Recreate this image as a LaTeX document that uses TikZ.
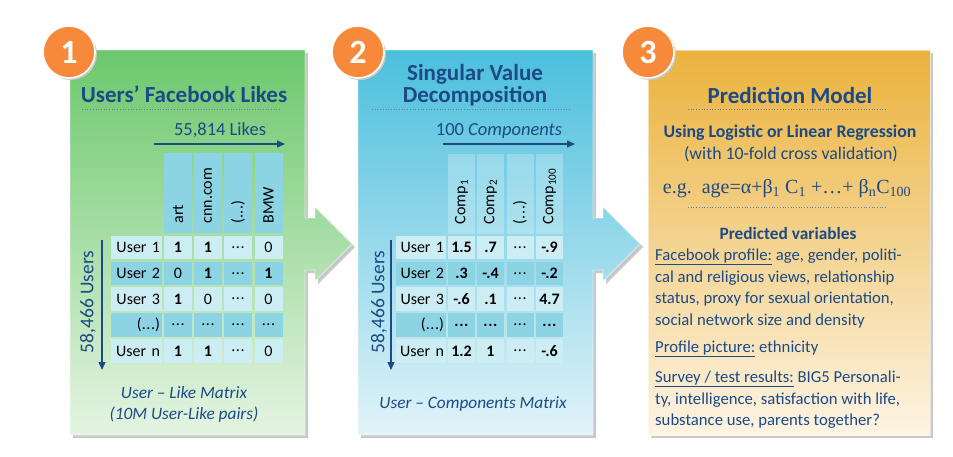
\documentclass[tikz,border=0pt]{standalone}
\usepackage{fontspec}
\setmainfont{Carlito}
\newfontfamily\eqfont{Liberation Serif}
\usepackage{tikz}
\usetikzlibrary{arrows.meta,calc}
\definecolor{navy}{HTML}{1B4A86}
\definecolor{badgeorange}{HTML}{F7893A}
\definecolor{greentop}{HTML}{6CC86C}
\definecolor{greenbot}{HTML}{E5F4E2}
\definecolor{bluetop}{HTML}{4BBFDC}
\definecolor{bluebot}{HTML}{E2F3F9}
\definecolor{ambertop}{HTML}{EBB23C}
\definecolor{amberbot}{HTML}{FDF4E3}
\definecolor{celllight}{HTML}{CDEDF4}
\definecolor{celldark}{HTML}{8CD3E3}
\definecolor{boxshadow}{HTML}{C9C9C9}
\newcommand{\fsize}[2]{\fontsize{#1}{#2}\selectfont}
\newcommand{\dotsgap}{.\kern0.6pt.\kern0.6pt.}
\newcommand{\arrowbox}[2]{(#1,50) -- (#2,50) -- (#2,218) -- (#2+10,218) -- (#2+10,207)
  -- (#2+47,244) -- (#2+10,281) -- (#2+10,270) -- (#2,270) -- (#2,435) -- (#1,435) -- cycle}
\newcommand{\plainbox}[2]{(#1,50) rectangle (#2,435)}

\begin{document}
\begin{tikzpicture}[x=1pt,y=-1pt,
  flow/.style={-{Triangle[length=8pt,width=7pt]},navy,line width=1.3pt},
  rule/.style={navy!70,dotted,line width=0.7pt},
  badge/.style={circle,fill=badgeorange,draw=white,line width=1.6pt,minimum size=52pt,
    inner sep=0pt,text=white,font=\fsize{34}{34}\bfseries},
  title/.style={navy,font=\fsize{23}{22}\bfseries,align=center},
  cell/.style={minimum width=28pt,minimum height=23.5pt,inner sep=0pt,font=\fsize{16}{16}},
  rowlabel/.style={cell,minimum width=51pt,text width=47pt,align=right},
  colhead/.style={cell,rotate=90,minimum width=80pt,minimum height=28pt,text width=61pt,align=left},
  note/.style={navy,font=\fsize{17.3}{21}\itshape,align=center},
  body/.style={navy,font=\fsize{16.7}{16},anchor=base west,inner sep=0pt}]
  \useasboundingbox (0,0) rectangle (953,456);

  % the three panels
  \fill[boxshadow,shift={(3,3)}] \arrowbox{70}{305};
  \shade[top color=greentop,bottom color=greenbot] \arrowbox{70}{305};
  \draw[white,opacity=0.5,line width=0.8pt] \arrowbox{70}{305};
  \fill[boxshadow,shift={(3,3)}] \arrowbox{358}{593};
  \shade[top color=bluetop,bottom color=bluebot] \arrowbox{358}{593};
  \draw[white,opacity=0.5,line width=0.8pt] \arrowbox{358}{593};
  \fill[boxshadow,shift={(3,3)}] \plainbox{648}{930};
  \shade[top color=ambertop,bottom color=amberbot] \plainbox{648}{930};
  \draw[white,opacity=0.5,line width=0.8pt] \plainbox{648}{930};

  \foreach \x/\n in {69/1,358/2,648/3}{
    \fill[boxshadow] (\x+2,54) circle (26pt);
    \node[badge] (badge\n) at (\x,52) {\n};
  }

  % 1: likes matrix
  \node[title] (likestitle) at (184,94) {Users’ Facebook Likes};
  \coordinate (rule1a) at (82,109);
  \coordinate (rule1b) at (280,109);
  \draw[rule] (rule1a) -- (rule1b);
  \node[navy,font=\fsize{18.5}{18}] (likescount) at (220,130) {55,814 Likes};
  \coordinate (likesL) at (154,144);
  \coordinate (likesR) at (285,144);
  \draw[flow] (likesL) -- (likesR);
  \foreach \x/\t [count=\j] in {178/art,208/cnn.com,238/(\dotsgap),268.5/BMW}
    \node[colhead,fill=celldark] (like\j) at (\x,193) {\t};
  \foreach \y/\lab/\a/\b/\c/\d/\f [count=\i] in {
      247.5/User 1/\textbf{1}/\textbf{1}/\dotsgap/0/celllight,
      273.5/User 2/0/\textbf{1}/\dotsgap/\textbf{1}/celldark,
      299/User 3/\textbf{1}/0/\dotsgap/0/celllight,
      325/(\dotsgap)/\dotsgap/\dotsgap/\dotsgap/\dotsgap/celldark,
      351/User n/\textbf{1}/\textbf{1}/\dotsgap/0/celllight}{
    \node[rowlabel,fill=\f] (lu\i) at (136.5,\y) {\lab};
    \node[cell,fill=\f] (la\i) at (178,\y) {\a};
    \node[cell,fill=\f] (lb\i) at (208,\y) {\b};
    \node[cell,fill=\f] (lc\i) at (238,\y) {\c};
    \node[cell,fill=\f] (ld\i) at (268.5,\y) {\d};
  }
  \node[navy,font=\fsize{19.5}{18},rotate=90] (userscount1) at (88,302) {58,466 Users};
  \coordinate (users1T) at (102,240);
  \coordinate (users1B) at (102,370);
  \draw[flow] (users1T) -- (users1B);
  \node[note] (likematrix) at (184,404.5) {User – Like Matrix\\(10M User-Like pairs)};

  % 2: svd
  \node[title] (svdtitle) at (475,85) {Singular Value\\Decomposition};
  \coordinate (rule2a) at (372,109);
  \coordinate (rule2b) at (570,109);
  \draw[rule] (rule2a) -- (rule2b);
  \node[navy,font=\fsize{18.5}{18}] (compcount) at (499,131) {100 \textit{Components}};
  \coordinate (compL) at (443,144);
  \coordinate (compR) at (575,144);
  \draw[flow] (compL) -- (compR);
  \foreach \x/\t [count=\j] in {461.5/Comp\textsubscript{1},490.5/Comp\textsubscript{2},520/(\dotsgap),549.5/Comp\textsubscript{100}}
    \node[colhead,minimum height=27pt,fill=white,fill opacity=0.25,text opacity=1] (comp\j) at (\x,193.5) {\t};
  \foreach \y/\lab/\a/\b/\c/\d/\f [count=\i] in {
      247.5/User 1/1.5/.7/\dotsgap/-.9/celllight,
      273.5/User 2/.3/-.4/\dotsgap/-.2/celldark,
      299/User 3/-.6/.1/\dotsgap/4.7/celllight,
      325/(\dotsgap)/\dotsgap/\dotsgap/\dotsgap/\dotsgap/celldark,
      351/User n/1.2/1/\dotsgap/-.6/celllight}{
    \node[rowlabel,minimum width=50pt,text width=46pt,fill=\f] (cu\i) at (421,\y) {\lab};
    \node[cell,minimum width=27pt,fill=\f] (ca\i) at (461.5,\y) {\textbf{\a}};
    \node[cell,minimum width=27pt,fill=\f] (cb\i) at (490.5,\y) {\textbf{\b}};
    \node[cell,minimum width=27pt,fill=\f] (cc\i) at (520,\y) {\c};
    \node[cell,minimum width=27pt,fill=\f] (cd\i) at (549.5,\y) {\textbf{\d}};
  }
  \node[navy,font=\fsize{19.5}{18},rotate=90] (userscount2) at (379,302) {58,466 Users};
  \coordinate (users2T) at (391,240);
  \coordinate (users2B) at (391,370);
  \draw[flow] (users2T) -- (users2B);
  \node[note] (compmatrix) at (473,404) {User – Components Matrix};

  % 3: prediction model
  \node[title] (predtitle) at (790,95) {Prediction Model};
  \coordinate (rule3a) at (688,109);
  \coordinate (rule3b) at (887,109);
  \draw[rule] (rule3a) -- (rule3b);
  \node[navy,font=\fsize{17.8}{17}\bfseries] (method) at (790,133) {Using Logistic or Linear Regression};
  \node[navy,font=\fsize{17.8}{17}] (crossval) at (791,154) {(with 10-fold cross validation)};
  \node[navy,font=\fsize{20}{20}\eqfont] (example) at (787,189)
    {e.g.\ \ age=α+β\textsubscript{1} C\textsubscript{1} +…+ β\textsubscript{n}C\textsubscript{100}};
  \coordinate (rule4a) at (688,207);
  \coordinate (rule4b) at (887,207);
  \draw[rule] (rule4a) -- (rule4b);
  \node[navy,font=\fsize{17.3}{17}\bfseries] (predvars) at (788,233) {Predicted variables};
  \foreach \y/\t [count=\k] in {
      260/{\underline{Facebook profile:} age, gender, politi-},
      282/{cal and religious views, relationship},
      303.5/{status, proxy for sexual orientation,},
      325.5/{social network size and density},
      352.5/{\underline{Profile picture:} ethnicity},
      382/{\underline{Survey / test results:} BIG5 Personali-},
      404/{ty, intelligence, satisfaction with life,},
      425.5/{substance use, parents together?}}
    \node[body] (var\k) at (655,\y) {\t};
\end{tikzpicture}
\end{document}
